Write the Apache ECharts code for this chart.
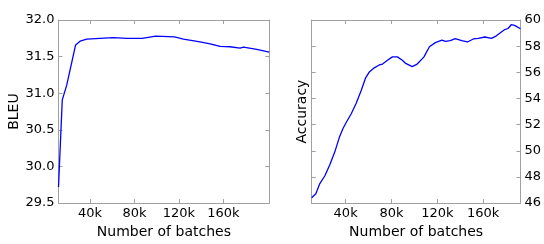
<!DOCTYPE html>
<html><head><meta charset="utf-8">
<script src="https://cdn.jsdelivr.net/npm/echarts@6/dist/echarts.min.js"></script>
<style>html,body{margin:0;padding:0;background:#fff}#c{width:544px;height:244px}</style>
</head><body><div id="c"></div>
<script>
// Left panel: BLEU vs number of batches (thousands)
const bleuBatches = [11.6, 15, 19, 27, 31, 37, 49, 61, 73, 87, 99, 116, 124, 139, 148, 157, 166, 175, 178, 190, 201.3];
const bleuValues  = [29.72, 30.91, 31.11, 31.66, 31.71, 31.74, 31.75, 31.76, 31.75, 31.75, 31.78, 31.77, 31.74, 31.70, 31.675, 31.64, 31.635, 31.615, 31.63, 31.60, 31.56];
// Right panel: Accuracy vs number of batches (thousands)
const accBatches = [10.4, 14, 17.5, 21.9, 26.2, 30.5, 34.8, 37.7, 40.6, 44.9, 49.2, 53.5, 57.3, 60.7, 65, 69.3, 72.2, 76.5, 80.8, 85.1, 89.5, 92.4, 98.1, 102.4, 108.2, 113.1, 118.3, 124, 127, 131.3, 135.6, 141.3, 146.2, 151.4, 155.7, 161.5, 167.2, 171.5, 178.8, 181.6, 184.5, 187.4, 192.5];
const accValues  = [46.41, 46.72, 47.49, 48.09, 48.94, 49.9, 51.1, 51.7, 52.18, 52.83, 53.63, 54.59, 55.55, 56.03, 56.34, 56.56, 56.63, 56.92, 57.18, 57.18, 56.92, 56.68, 56.44, 56.63, 57.16, 57.95, 58.27, 58.46, 58.36, 58.43, 58.58, 58.43, 58.32, 58.55, 58.6, 58.7, 58.6, 58.79, 59.27, 59.35, 59.64, 59.59, 59.33];
const xTicks = [40, 80, 120, 160];
const bleuTicks = [29.5, 30.0, 30.5, 31.0, 31.5, 32.0];
const accTicks = [46, 48, 50, 52, 54, 56, 58, 60];

const FONT = 'DejaVu Sans';
const FRAME = '#a0a0a0';
const chart = echarts.init(document.getElementById('c'), null, {renderer: 'canvas'});

function xAx(gridIndex, min, max, pos, showLabels) {
  return {
    type: 'value', gridIndex, min, max, position: pos,
    name: showLabels ? 'Number of batches' : '',
    nameLocation: 'middle', nameGap: 15,
    nameTextStyle: {fontFamily: FONT, fontSize: 14, color: '#000'},
    axisLine: {show: true, onZero: false, lineStyle: {color: FRAME, width: 1}},
    axisTick: {show: true, inside: true, length: 4, customValues: xTicks, lineStyle: {color: FRAME}},
    axisLabel: {show: showLabels, customValues: xTicks, formatter: v => v + 'k', margin: 4,
      fontFamily: FONT, fontSize: 13, color: '#000'},
    splitLine: {show: false}
  };
}
function yAx(gridIndex, min, max, interval, pos, showLabels, name, nameGap, fmt) {
  return {
    type: 'value', gridIndex, min, max, interval, position: pos,
    name, nameLocation: 'middle', nameGap, nameRotate: 90,
    nameTextStyle: {fontFamily: FONT, fontSize: 14, color: '#000'},
    axisLine: {show: true, onZero: false, lineStyle: {color: FRAME, width: 1}},
    axisTick: {show: true, inside: true, length: 4, lineStyle: {color: FRAME}},
    axisLabel: {show: showLabels, margin: 4, formatter: fmt,
      fontFamily: FONT, fontSize: 13, color: '#000'},
    splitLine: {show: false}
  };
}

chart.setOption({
  animation: false,
  backgroundColor: '#fff',
  grid: [
    {left: 58.5, right: 274.7, top: 20, bottom: 30},
    {left: 311.7, right: 21.3, top: 20, bottom: 30}
  ],
  xAxis: [
    xAx(0, 11.6, 201.3, 'bottom', true),
    xAx(0, 11.6, 201.3, 'top', false),
    xAx(1, 10.4, 192.5, 'bottom', true),
    xAx(1, 10.4, 192.5, 'top', false)
  ],
  yAxis: [
    yAx(0, 29.5, 32.0, 0.5, 'left', true, 'BLEU', 30, v => v.toFixed(1)),
    yAx(0, 29.5, 32.0, 0.5, 'right', false, '', 0),
    yAx(1, 46, 60, 2, 'left', false, 'Accuracy', 2),
    yAx(1, 46, 60, 2, 'right', true, '', 0, v => String(v))
  ],
  series: [
    {type: 'line', xAxisIndex: 0, yAxisIndex: 0, showSymbol: false, smooth: false,
     lineStyle: {color: '#0000ff', width: 1.3},
     data: bleuBatches.map((b, i) => [b, bleuValues[i]])},
    {type: 'line', xAxisIndex: 2, yAxisIndex: 3, showSymbol: false, smooth: false,
     lineStyle: {color: '#0000ff', width: 1.3},
     data: accBatches.map((b, i) => [b, accValues[i]])}
  ]
});
</script></body></html>
